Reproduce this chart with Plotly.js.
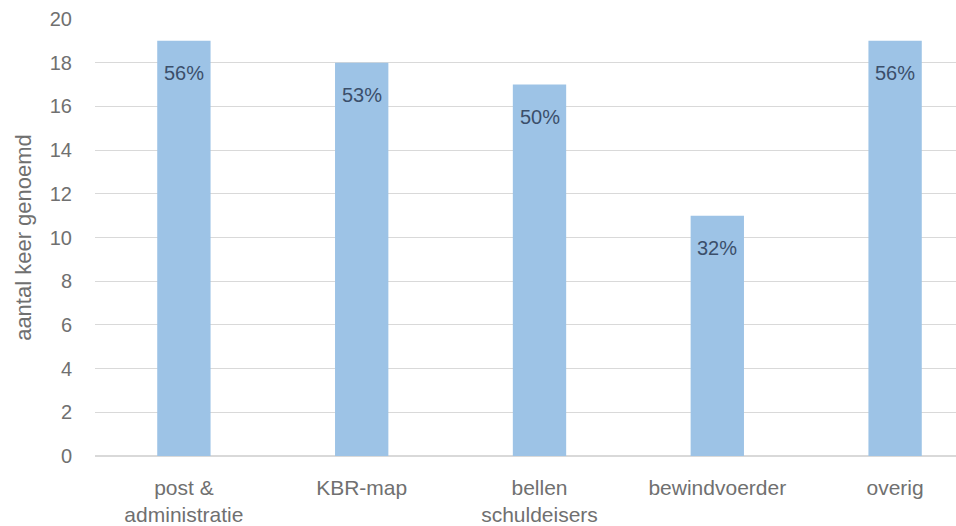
<!DOCTYPE html>
<html>
<head>
<meta charset="utf-8">
<script src="https://cdn.plot.ly/plotly-3.0.1.min.js"></script>
<style>
html,body{margin:0;padding:0;overflow:hidden;background:#fff;}
#chart{width:990px;height:526px;}
</style>
</head>
<body>
<div id="chart"></div>
<script>
const categories = ["post &<br>administratie", "KBR-map", "bellen<br>schuldeisers", "bewindvoerder", "overig"];
const counts = [19, 18, 17, 11, 19];
const percentLabels = ["56%", "53%", "50%", "32%", "56%"];
const yTicks = [0, 2, 4, 6, 8, 10, 12, 14, 16, 18, 20];

const FONT = "Liberation Sans, Arial, sans-serif";
const GRAY = "#707070";

const trace = {
  type: "bar",
  x: categories,
  y: counts,
  marker: {color: "#9dc3e6", line: {width: 0}},
  hoverinfo: "none"
};

const annotations = categories.map((c, i) => ({
  x: c, y: counts[i], xref: "x", yref: "y",
  text: percentLabels[i], showarrow: false,
  yanchor: "top", yshift: -19,
  font: {family: FONT, size: 20, color: "#3b4f6b"}
}));

const layout = {
  width: 990, height: 526,
  margin: {l: 95, r: 6, t: 19, b: 70},
  paper_bgcolor: "#fff", plot_bgcolor: "#fff",
  showlegend: false,
  bargap: 0.70,
  font: {family: FONT, color: GRAY},
  xaxis: {
    type: "category",
    showgrid: false, zeroline: false,
    showline: false,
    ticks: "",
    tickfont: {family: FONT, size: 21, color: GRAY},
    ticklabelstandoff: 17
  },
  yaxis: {
    range: [0, 20],
    tickvals: yTicks,
    ticktext: yTicks.map(String),
    showgrid: true, gridcolor: "#d9d9d9", gridwidth: 1.2,
    zeroline: true, zerolinecolor: "#d9d9d9", zerolinewidth: 1.2,
    showline: false, ticks: "",
    tickfont: {family: FONT, size: 20, color: GRAY},
    ticklabelstandoff: 22,
    title: {text: "aantal keer genoemd", font: {family: FONT, size: 22, color: GRAY}, standoff: 12}
  },
  annotations: annotations
};

Plotly.newPlot("chart", [trace], layout, {displayModeBar: false, staticPlot: true});
</script>
</body>
</html>
